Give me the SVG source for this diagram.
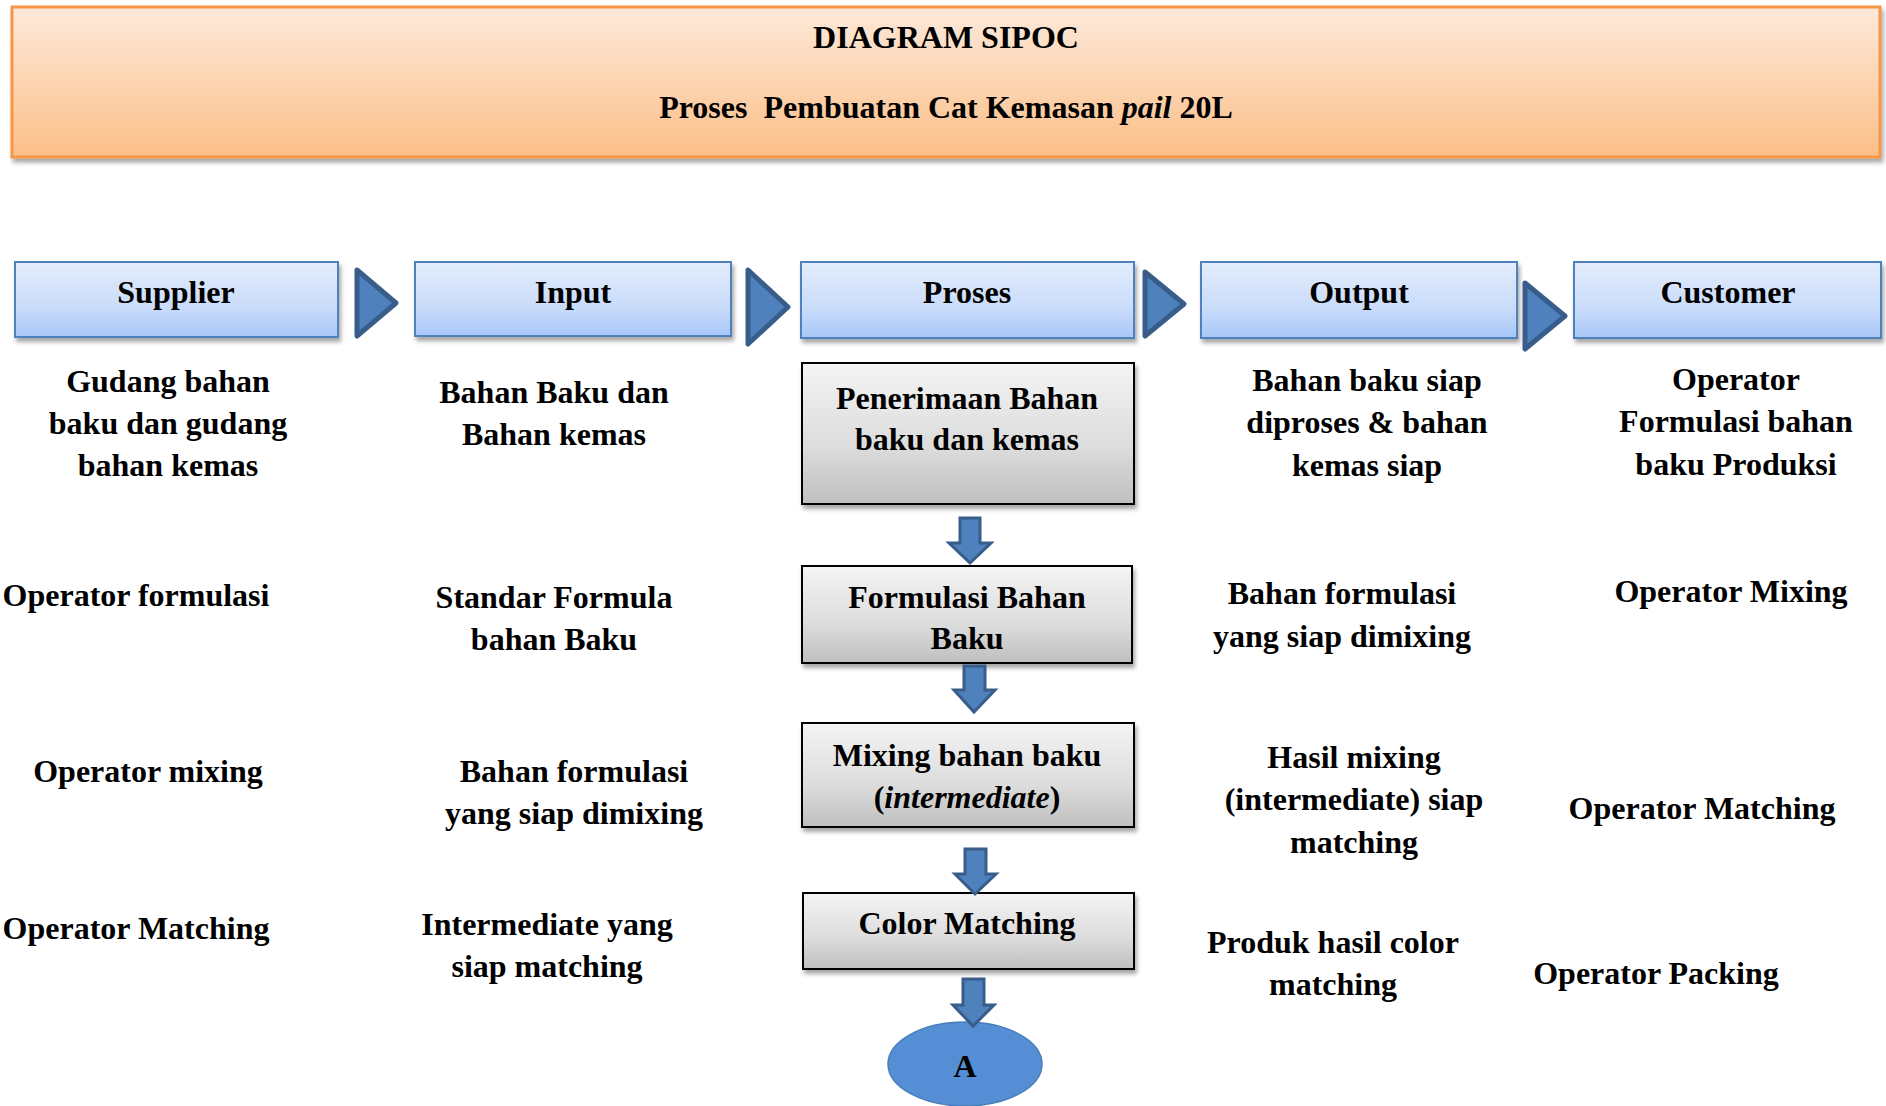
<svg xmlns="http://www.w3.org/2000/svg" width="1886" height="1106" viewBox="0 0 1886 1106">
<defs>
<linearGradient id="gTitle" x1="0" y1="0" x2="0" y2="1"><stop offset="0" stop-color="#fde9da"/><stop offset="1" stop-color="#fbbf88"/></linearGradient>
<linearGradient id="gHead" x1="0" y1="0" x2="0" y2="1"><stop offset="0" stop-color="#e3edfd"/><stop offset="0.6" stop-color="#cadcfa"/><stop offset="1" stop-color="#a8c7f8"/></linearGradient>
<linearGradient id="gProc" x1="0" y1="0" x2="0" y2="1"><stop offset="0" stop-color="#f4f4f4"/><stop offset="0.6" stop-color="#dcdcdc"/><stop offset="1" stop-color="#bfbfbf"/></linearGradient>
<filter id="sh" x="-5%" y="-10%" width="110%" height="130%"><feDropShadow dx="2" dy="4" stdDeviation="2" flood-color="#000" flood-opacity="0.35"/></filter>
</defs>
<style>
text{font-family:"Liberation Serif","Times New Roman",serif;font-weight:bold;font-size:32px;fill:#000;text-anchor:middle}
.title{fill:url(#gTitle);stroke:#f79646;stroke-width:3}
.head{fill:url(#gHead);stroke:#4f81bd;stroke-width:2}
.proc{fill:url(#gProc);stroke:#000;stroke-width:2}
.chev{fill:#4f81bd;stroke:#385d8a;stroke-width:5;stroke-linejoin:round}
.down{fill:#4f81bd;stroke:#385d8a;stroke-width:3;stroke-linejoin:miter}
.pre{white-space:pre}
</style>
<g id="title">
<rect class="title" x="12" y="7" width="1868" height="150" filter="url(#sh)"/>
<text x="946" y="48">DIAGRAM SIPOC</text>
<text class="pre" x="946" y="118">Proses  Pembuatan Cat Kemasan <tspan font-style="italic">pail</tspan> 20L</text>
</g>
<g id="head-supplier"><rect class="head" x="15" y="262" width="323" height="75" filter="url(#sh)"/><text x="176" y="303">Supplier</text></g>
<g id="head-input"><rect class="head" x="415" y="262" width="316" height="74" filter="url(#sh)"/><text x="573" y="303">Input</text></g>
<g id="head-proses"><rect class="head" x="801" y="262" width="333" height="76" filter="url(#sh)"/><text x="967" y="303">Proses</text></g>
<g id="head-output"><rect class="head" x="1201" y="262" width="316" height="76" filter="url(#sh)"/><text x="1359" y="303">Output</text></g>
<g id="head-customer"><rect class="head" x="1574" y="262" width="307" height="76" filter="url(#sh)"/><text x="1728" y="303">Customer</text></g>
<g id="p1"><rect class="proc" x="802" y="363" width="332" height="141" filter="url(#sh)"/><text x="967" y="409">Penerimaan Bahan</text><text x="967" y="450">baku dan kemas</text></g>
<g id="p2"><rect class="proc" x="802" y="566" width="330" height="97" filter="url(#sh)"/><text x="967" y="608">Formulasi Bahan</text><text x="967" y="649">Baku</text></g>
<g id="p3"><rect class="proc" x="802" y="723" width="332" height="104" filter="url(#sh)"/><text x="967" y="766">Mixing bahan baku</text><text x="967" y="808">(<tspan font-style="italic">intermediate</tspan>)</text></g>
<g id="p4"><rect class="proc" x="803" y="893" width="331" height="76" filter="url(#sh)"/><text x="967" y="934">Color Matching</text></g>
<g id="nodeA"><ellipse cx="965" cy="1064" rx="77" ry="42" fill="#558ed5" stroke="#4a7ebb" stroke-width="1.5"/><text x="965" y="1077">A</text></g>
<g id="connectors">
<path class="chev" d="M357,270 L396,303 L357,336 Z"/>
<path class="chev" d="M748,270 L788,307 L748,344 Z"/>
<path class="chev" d="M1145,272 L1184,304 L1145,336 Z"/>
<path class="chev" d="M1525,283 L1565,316 L1525,349 Z"/>
<path class="down" d="M960,518 H980 V543 H991 L970,563 L949,543 H960 Z"/>
<path class="down" d="M964,666 H985 V690 H995 L974,712 L954,690 H964 Z"/>
<path class="down" d="M965,849 H986 V874 H996 L975,894 L955,874 H965 Z"/>
<path class="down" d="M963,979 H984 V1005 H994 L973,1026 L953,1005 H963 Z"/>
</g>
<g id="supplier-texts">
<text x="168" y="392">Gudang bahan</text><text x="168" y="434">baku dan gudang</text><text x="168" y="476">bahan kemas</text>
<text x="136" y="606">Operator formulasi</text>
<text x="148" y="782">Operator mixing</text>
<text x="136" y="939">Operator Matching</text>
</g>
<g id="input-texts">
<text x="554" y="403">Bahan Baku dan</text><text x="554" y="445">Bahan kemas</text>
<text x="554" y="608">Standar Formula</text><text x="554" y="650">bahan Baku</text>
<text x="574" y="782">Bahan formulasi</text><text x="574" y="824">yang siap dimixing</text>
<text x="547" y="935">Intermediate yang</text><text x="547" y="977">siap matching</text>
</g>
<g id="output-texts">
<text x="1367" y="391">Bahan baku siap</text><text x="1367" y="433">diproses &amp; bahan</text><text x="1367" y="476">kemas siap</text>
<text x="1342" y="604">Bahan formulasi</text><text x="1342" y="647">yang siap dimixing</text>
<text x="1354" y="768">Hasil mixing</text><text x="1354" y="810">(intermediate) siap</text><text x="1354" y="853">matching</text>
<text x="1333" y="953">Produk hasil color</text><text x="1333" y="995">matching</text>
</g>
<g id="customer-texts">
<text x="1736" y="390">Operator</text><text x="1736" y="432">Formulasi bahan</text><text x="1736" y="475">baku Produksi</text>
<text x="1731" y="602">Operator Mixing</text>
<text x="1702" y="819">Operator Matching</text>
<text x="1656" y="984">Operator Packing</text>
</g>
</svg>
